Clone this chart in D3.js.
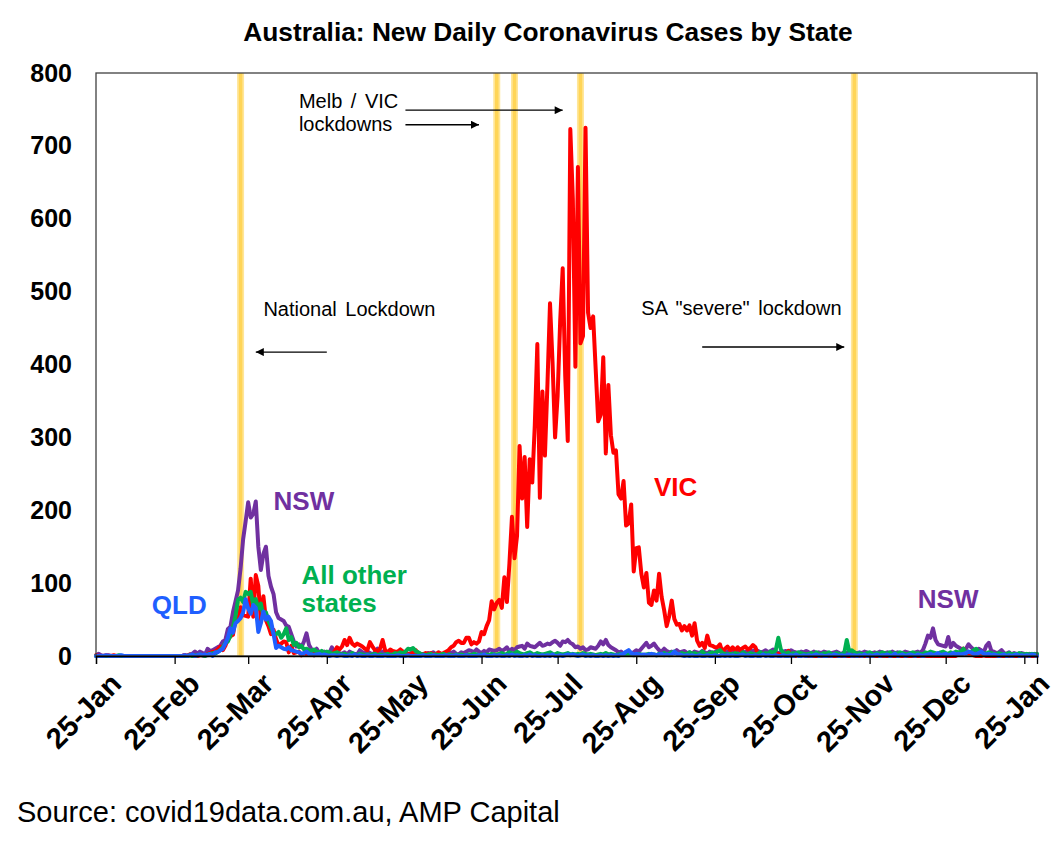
<!DOCTYPE html>
<html>
<head>
<meta charset="utf-8">
<script src="https://d3js.org/d3.v7.min.js"></script>
<style>
  body { margin: 0; background: #fff; }
  svg { font-family: Arial, "Liberation Sans", sans-serif; }
</style>
</head>
<body>
<svg id="chart" width="1057" height="854"></svg>
<script>
// first day of each block of daily values
const monthStarts = ["2020-01-25", "2020-02-01", "2020-03-01", "2020-04-01", "2020-05-01", "2020-06-01",
  "2020-07-01", "2020-08-01", "2020-09-01", "2020-10-01", "2020-11-01", "2020-12-01", "2021-01-01"];

// daily new cases, one inner array per month
const vicCases = [
  [1,0,0,0,1,0,0],
  [1,0,0,0,0,0,0,0,0,0, 0,0,0,0,0,0,0,0,0,0, 0,0,0,0,0,0,0,0,1],
  [0,2,0,1,0,1,1,0,3,4, 6,6,9,13,8,14,23,27,29,51, 49,67,56,55,54,106,54,111,96,48, 82],
  [49,41,30,36,23,14,17,20,19,5, 14,4,5,6,1,4,2,5,4,1, 3,2,3,2,3,1,2,6,12,9],
  [13,22,15,25,17,14,17,15,13,10, 8,19,13,8,7,10,22,8,5,9, 7,6,6,9,6,5,3,2,5,8, 4],
  [3,2,4,3,4,2,2,5,3,4, 6,8,12,14,19,21,18,18,25,25, 16,19,17,20,33,30,41,49,75,64],
  [73,77,66,108,74,127,191,134,165,288, 216,273,177,270,238,317,428,217,363,275, 374,484,403,300,357,459,532,384,295,723, 627],
  [397,671,429,439,725,471,450,466,394,322, 331,410,278,372,303,279,282,222,216,240, 179,182,208,116,148,149,113,94,114,73, 70],
  [90,76,113,81,63,41,55,76,51,43, 44,35,41,35,42,28,45,21,14,18, 11,28,15,14,12,12,16,5,10,13],
  [8,12,7,12,8,11,13,9,11,15, 12,1,4,3,1,2,1,2,1,3, 1,1,0,7,0,0,0,4,2,1, 0],
  [0,0,0,0,0,0,0,0,0,0, 0,0,0,0,0,0,0,0,0,0, 0,0,0,0,0,0,0,0,0,0],
  [0,0,0,0,0,0,0,0,0,0, 0,0,0,0,0,0,0,0,0,0, 0,0,0,0,0,0,0,0,0,3, 5],
  [10,3,3,3,1,0,0,0,1,0, 0,0,0,0,0,0,0,0,0,0, 0,0,0,0,0,0,0,0,0,0]
];

const nswCases = [
  [0,3,1,0,0,1,0],
  [0,0,0,0,0,0,0,0,0,0, 0,0,0,0,0,0,0,0,0,0, 0,0,0,0,0,0,0,0,1],
  [0,2,3,6,3,6,4,2,10,7, 8,10,12,14,20,22,37,40,60,75, 90,120,160,185,211,190,195,212,150,118, 140],
  [150,110,95,85,60,52,50,48,42,40, 30,20,13,16,12,20,31,15,9,6, 10,4,5,6,3,4,12,3,5,4],
  [3,5,2,6,4,3,2,8,5,3, 6,4,2,5,10,4,6,2,3,4, 2,5,3,4,2,3,1,4,2,3, 2],
  [2,3,2,4,3,5,2,4,3,2, 3,5,4,6,3,2,5,4,6,8, 7,5,9,6,4,7,5,9,8,7],
  [8,10,7,9,12,6,10,8,12,13, 14,10,17,14,13,12,15,18,14,15, 17,16,19,21,18,14,20,19,22,18, 16],
  [12,13,10,12,8,9,12,11,10,14, 20,16,22,15,12,10,8,5,6,3, 2,6,4,5,8,6,10,14,18,12, 14],
  [17,12,8,6,10,7,5,6,4,8, 5,6,7,4,5,3,6,5,4,7, 5,3,6,4,5,8,6,5,4,6],
  [7,5,8,6,9,6,5,7,8,6, 9,7,5,6,8,5,7,9,6,4, 5,6,7,5,8,6,5,4,6,5, 7],
  [5,4,6,3,5,4,6,5,3,4, 5,6,4,3,5,4,6,5,3,4, 5,4,6,5,3,4,5,4,6,5],
  [4,5,3,6,4,5,3,4,6,5, 4,3,5,6,4,8,17,28,25,38, 22,16,15,14,13,26,12,18,14,12, 10],
  [8,10,16,12,9,6,10,8,5,14, 18,7,6,4,5,8,4,3,5,2, 4,3,2,4,3,2,3,2,3,2]
];

const qldCases = [
  [0,0,0,0,1,0,0],
  [0,0,0,1,0,0,0,0,0,0, 0,0,0,0,0,0,0,0,0,0, 0,0,0,0,0,0,0,0,1],
  [0,1,2,0,1,2,1,2,1,3, 0,5,5,8,10,17,25,38,32,45, 48,52,60,78,65,58,70,66,33,45, 61],
  [50,54,48,30,11,14,12,10,9,12, 8,7,6,5,3,4,6,3,2,1, 2,3,1,2,1,0,1,1,0,1],
  [1,0,0,1,0,2,0,1,0,0, 1,0,0,1,0,0,0,1,0,0, 0,0,1,0,0,0,1,0,0,0, 0],
  [0,1,0,0,0,1,0,0,0,0, 1,0,0,0,1,0,0,0,1,0, 0,0,0,1,0,2,0,0,0,1],
  [0,1,0,0,1,0,2,0,1,0, 0,1,0,2,0,1,0,0,1,0, 1,0,2,0,0,1,0,1,2,1, 2],
  [1,0,1,2,0,1,0,1,0,0, 1,0,1,0,1,0,1,0,2,3, 6,8,4,2,3,2,1,2,1,2, 3],
  [2,1,2,3,1,2,1,2,6,3, 2,1,0,1,0,1,0,0,1,0, 0,1,0,0,1,0,0,1,0,1],
  [0,1,0,0,1,2,0,1,0,0, 1,0,0,2,0,1,0,0,1,0, 0,1,0,0,1,0,2,0,0,1, 0],
  [1,0,1,2,0,1,0,0,1,0, 2,1,0,1,0,1,2,0,1,0, 1,0,2,0,1,0,1,2,0,1],
  [1,2,0,1,3,0,1,2,0,1, 2,1,0,2,1,0,1,2,3,1, 2,4,1,2,3,1,2,4,2,3, 2],
  [3,4,6,5,3,2,4,6,3,2, 3,1,2,1,0,1,2,0,1,0, 1,2,0,1,0,1,0,2,1,0]
];

const otherCases = [
  [0,0,0,0,0,0,0],
  [0,0,1,0,0,0,0,0,0,0, 0,0,0,0,0,0,0,0,0,0, 0,0,0,0,0,0,0,0,0],
  [0,1,0,1,1,2,1,0,2,3, 4,3,6,8,12,18,20,28,40,55, 77,80,74,88,85,88,70,78,65,72, 55],
  [60,48,40,31,30,33,25,30,38,22, 26,15,18,12,14,9,10,8,7,9, 6,5,7,4,6,5,3,4,5,3],
  [2,3,1,2,4,2,1,3,2,1, 2,1,2,3,1,2,1,2,3,1, 2,4,3,5,4,6,10,9,11,7, 5],
  [3,2,1,2,3,1,2,1,2,3, 1,2,1,0,2,1,2,1,1,2, 1,3,2,1,2,1,2,1,3,2],
  [2,3,4,2,3,5,4,3,6,4, 3,2,4,5,3,2,4,3,2,3, 4,5,3,2,4,3,2,3,4,2, 3],
  [2,3,2,4,3,2,3,2,1,2, 3,2,4,2,3,2,1,2,3,2, 2,3,2,1,2,3,2,1,2,3, 2],
  [2,1,3,2,4,2,3,5,6,3, 2,4,3,2,5,3,4,2,3,6, 3,2,4,5,3,6,8,4,3,2],
  [3,2,4,3,2,5,3,2,4,3, 2,3,5,2,4,3,6,4,8,25, 9,4,3,5,2,4,3,5,4,3, 2],
  [3,4,2,5,3,2,4,3,5,2, 3,4,3,2,4,22,6,8,5,3, 4,3,2,4,5,3,2,4,3,5],
  [4,3,5,2,4,3,5,4,3,2, 4,5,3,4,3,2,5,4,6,5, 4,3,5,6,4,3,5,4,6,5, 6],
  [10,4,6,5,8,10,6,5,4,3, 5,4,3,2,4,3,2,3,4,2, 3,2,4,3,2,3,2,3,2,3]
];

const lockdownDates = ["2020-03-22", "2020-07-01", "2020-07-08", "2020-08-03", "2020-11-19"];
const yTicks = [0, 100, 200, 300, 400, 500, 600, 700, 800];

const parse = d3.timeParse("%Y-%m-%d");
const toPoints = months => months.flatMap((vals, m) =>
  vals.map((v, i) => ({ date: d3.timeDay.offset(parse(monthStarts[m]), i), value: v })));

const series = [
  { name: "NSW", color: "#7030A0", points: toPoints(nswCases) },
  { name: "VIC", color: "#FF0000", points: toPoints(vicCases) },
  { name: "Other", color: "#00B050", points: toPoints(otherCases) },
  { name: "QLD", color: "#1F5FFF", points: toPoints(qldCases) }
];

const svg = d3.select("#chart");
const plotLeft = 96, plotRight = 1037, plotTop = 73, plotBottom = 656;

const x = d3.scaleTime()
  .domain([parse("2020-01-25"), parse("2021-01-30")])
  .range([plotLeft, plotRight]);
const y = d3.scaleLinear().domain([0, 800]).range([plotBottom, plotTop]);

// title
svg.append("text")
  .attr("x", 548).attr("y", 41)
  .attr("text-anchor", "middle")
  .style("font-size", "26.3px").style("font-weight", "bold")
  .text("Australia: New Daily Coronavirus Cases by State");

// lockdown bands
const bands = svg.append("g");
lockdownDates.forEach(d => {
  const bx = x(parse(d));
  bands.append("rect").attr("x", bx - 3.5).attr("y", plotTop).attr("width", 7).attr("height", plotBottom - plotTop)
    .attr("fill", "#FFE699");
  bands.append("rect").attr("x", bx - 1.8).attr("y", plotTop).attr("width", 3.6).attr("height", plotBottom - plotTop)
    .attr("fill", "#FFD557");
});

// series lines
const line = d3.line().x(d => x(d.date)).y(d => y(d.value));
svg.append("g").selectAll("path")
  .data(series)
  .enter()
  .append("path")
  .attr("d", s => line(s.points))
  .attr("fill", "none")
  .attr("stroke", s => s.color)
  .attr("stroke-width", 4)
  .attr("stroke-linejoin", "round")
  .attr("stroke-linecap", "round");

// frame
svg.append("rect")
  .attr("x", plotLeft).attr("y", plotTop).attr("width", plotRight - plotLeft).attr("height", plotBottom - plotTop)
  .attr("fill", "none").attr("stroke", "#404040").attr("stroke-width", 1.3);

// y axis
const yAxis = svg.append("g")
  .attr("transform", "translate(" + plotLeft + ",0)")
  .call(d3.axisLeft(y).tickValues(yTicks).tickSize(0).tickPadding(24));
yAxis.select(".domain").remove();
yAxis.selectAll("text")
  .style("font-size", "25px").style("font-weight", "bold")
  .style("font-family", "Arial, 'Liberation Sans', sans-serif").attr("fill", "#000");

// x axis, ticks on the 25th of each month
const xTickDates = d3.range(13).map(i => new Date(2020, i, 25));
const xAxis = svg.append("g")
  .attr("transform", "translate(0," + plotBottom + ")")
  .call(d3.axisBottom(x).tickValues(xTickDates).tickFormat(d3.timeFormat("%d-%b")).tickSize(8));
xAxis.select(".domain").attr("stroke", "#000").attr("stroke-width", 1.3);
xAxis.selectAll(".tick line").attr("stroke", "#000").attr("stroke-width", 1.3);
xAxis.selectAll("text")
  .attr("text-anchor", "end")
  .attr("transform", "translate(8,11) rotate(-45)")
  .attr("x", 0).attr("y", 0).attr("dy", "0.9em")
  .style("font-size", "29px").style("font-weight", "bold")
  .style("font-family", "Arial, 'Liberation Sans', sans-serif").attr("fill", "#000");

// series labels
const labels = [
  { text: "NSW", date: "2020-04-04", value: 200, color: "#7030A0" },
  { text: "VIC", date: "2020-09-01", value: 219, color: "#FF0000" },
  { text: "All other", date: "2020-04-15", value: 99, color: "#00B050" },
  { text: "states", date: "2020-04-15", value: 60, color: "#00B050" },
  { text: "QLD", date: "2020-02-16", value: 58, color: "#1F5FFF" },
  { text: "NSW", date: "2020-12-14", value: 66, color: "#7030A0" }
];
svg.append("g").selectAll("text")
  .data(labels)
  .enter()
  .append("text")
  .attr("x", d => x(parse(d.date)))
  .attr("y", d => y(d.value))
  .attr("fill", d => d.color)
  .style("font-size", "26px").style("font-weight", "bold")
  .text(d => d.text);

// annotations
svg.append("defs").append("marker")
  .attr("id", "arrow").attr("viewBox", "0 0 10 10")
  .attr("refX", 10).attr("refY", 5)
  .attr("markerWidth", 11).attr("markerHeight", 8)
  .attr("markerUnits", "userSpaceOnUse")
  .attr("orient", "auto")
  .append("path").attr("d", "M0,0L10,5L0,10Z").attr("fill", "#000");

const notes = [
  { text: "Melb / VIC", date: "2020-04-14", value: 752 },
  { text: "lockdowns", date: "2020-04-14", value: 720 },
  { text: "National Lockdown", date: "2020-03-31", value: 466 },
  { text: "SA \"severe\" lockdown", date: "2020-08-27", value: 468 }
];
svg.append("g").selectAll("text")
  .data(notes)
  .enter()
  .append("text")
  .attr("x", d => x(parse(d.date)))
  .attr("y", d => y(d.value))
  .style("font-size", "20px").style("word-spacing", "3px")
  .text(d => d.text);

const arrows = [
  { from: "2020-05-26", to: "2020-07-27", value: 749 },
  { from: "2020-05-26", to: "2020-06-24", value: 729 },
  { from: "2020-04-25", to: "2020-03-28", value: 417 },
  { from: "2020-09-20", to: "2020-11-15", value: 424 }
];
svg.append("g").selectAll("line")
  .data(arrows)
  .enter()
  .append("line")
  .attr("x1", d => x(parse(d.from))).attr("x2", d => x(parse(d.to)))
  .attr("y1", d => y(d.value)).attr("y2", d => y(d.value))
  .attr("stroke", "#000").attr("stroke-width", 1.3)
  .attr("marker-end", "url(#arrow)");

// source
svg.append("text")
  .attr("x", 17).attr("y", 822)
  .style("font-size", "29px")
  .text("Source: covid19data.com.au, AMP Capital");
</script>
</body>
</html>
